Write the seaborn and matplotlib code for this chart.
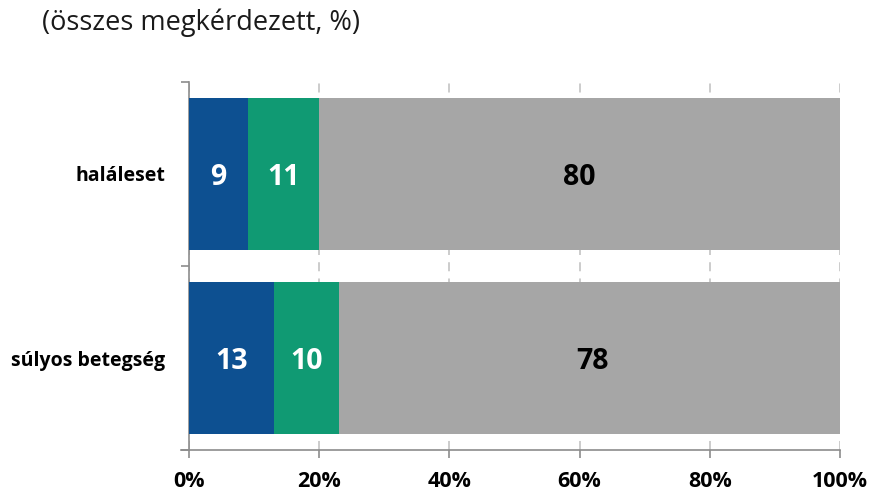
import numpy as np
import pandas as pd
import matplotlib.pyplot as plt
from matplotlib.ticker import FixedLocator, PercentFormatter
import seaborn as sns

categories = ["haláleset", "súlyos betegség"]
blue_vals = [9, 13]
green_vals = [11, 10]
gray_vals = [80, 78]
title = "(összes megkérdezett, %)"

c_blue = "#0D5091"
c_green = "#109A73"
c_gray = "#A6A6A6"

sns.set_theme(style="white")
plt.rcParams["font.family"] = ["Open Sans", "DejaVu Sans"]

df = pd.DataFrame({"cat": categories, "blue": blue_vals,
                   "green": green_vals, "gray": gray_vals})
df["c1"] = df["blue"]
df["c2"] = df["blue"] + df["green"]
df["c3"] = df["c2"] + df["gray"]

fig = plt.figure(figsize=(8.73, 4.93), dpi=100)
ax = fig.add_axes([0.2165, 0.0872, 0.7457, 0.7465])

# stacked layers drawn back to front
sns.barplot(data=df, x="c3", y="cat", color=c_gray, width=0.83,
            saturation=1, ax=ax, zorder=2)
sns.barplot(data=df, x="c2", y="cat", color=c_green, width=0.83,
            saturation=1, ax=ax, zorder=3)
sns.barplot(data=df, x="c1", y="cat", color=c_blue, width=0.83,
            saturation=1, ax=ax, zorder=4)
for p in ax.patches:
    p.set_edgecolor("none")

# value labels
lab_kw = dict(ha="center", va="center_baseline", fontsize=20.5,
              fontweight="bold", zorder=6)
for i, row in df.iterrows():
    ax.text(row["blue"] / 2, i, str(row["blue"]), color="white", **lab_kw)
    ax.text(row["blue"] + row["green"] / 2, i, str(row["green"]),
            color="white", **lab_kw)
    ax.text(row["c2"] + row["gray"] / 2, i, str(row["gray"]),
            color="black", **lab_kw)

ax.set_xlim(0, 100)
ax.set_ylim(1.5, -0.5)
ax.xaxis.set_major_locator(FixedLocator([0, 20, 40, 60, 80, 100]))
ax.xaxis.set_major_formatter(PercentFormatter(decimals=0))
ax.yaxis.set_minor_locator(FixedLocator([-0.5, 0.5, 1.5]))
ax.tick_params(axis="y", which="major", length=0, pad=17, labelsize=14)
ax.tick_params(axis="y", which="minor", left=True, length=6, width=1.2,
               color="#8C8C8C", direction="out")
ax.tick_params(axis="x", which="major", bottom=True, length=6, width=1.2,
               color="#8C8C8C", direction="out", pad=9, labelsize=15.5)
for lab in ax.get_xticklabels() + ax.get_yticklabels():
    lab.set_fontweight("bold")
    lab.set_color("black")

ax.xaxis.grid(True, linestyle=(0, (5, 4)), color="#C8C8C8", linewidth=1.3,
              zorder=0)
ax.set_axisbelow(True)
ax.set_xlabel("")
ax.set_ylabel("")

sns.despine(ax=ax, top=True, right=True)
for s in ["left", "bottom"]:
    ax.spines[s].set_color("#8C8C8C")
    ax.spines[s].set_linewidth(1.2)
ax.spines["bottom"].set_bounds(-1.2, 100)
ax.spines["bottom"].set_clip_on(False)

fig.text(0.048, 0.953, title, fontsize=19.5, ha="left", va="center",
         color="#1a1a1a")

fig.savefig("out.png", dpi=100)
